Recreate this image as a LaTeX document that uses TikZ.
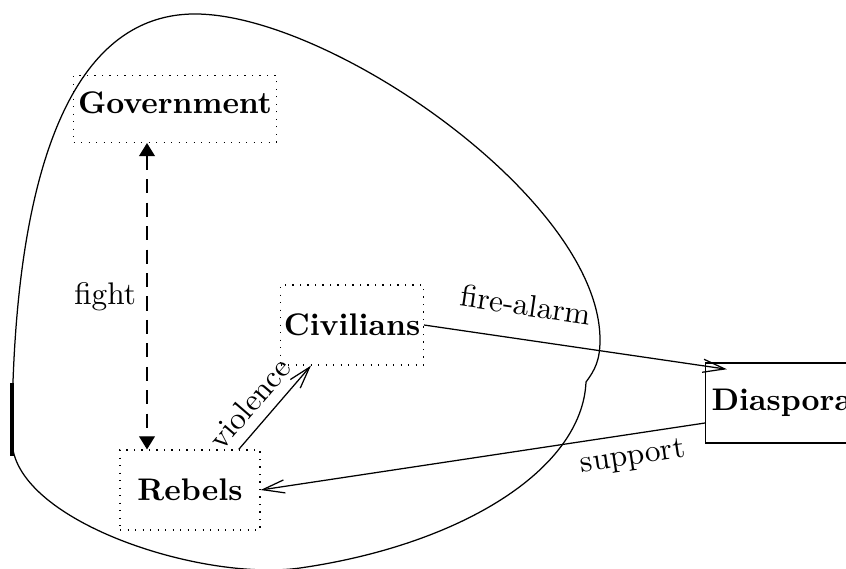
\documentclass[tikz,border=0pt]{standalone}
\usetikzlibrary{arrows.meta}
\begin{document}
\begin{tikzpicture}[x=0.32pt,y=-0.32pt,
    actor/.style={draw,dotted,font=\bfseries,inner sep=1.8pt,minimum width=44.8pt,minimum height=25.6pt},
    link/.style={-{Straight Barb[length=7pt,width=4.2pt]}},
    fightlink/.style={dash pattern=on 4.5pt off 3pt,{Triangle[length=4.2pt,width=5.1pt]}-{Triangle[length=4.2pt,width=5.1pt]}}]
  \useasboundingbox (0,0) rectangle (846,569);
  % the country
  \draw (586,382) .. controls (582,470) and (460,545) .. (300,568)
    .. controls (200,582) and (12,520) .. (12,440)
    .. controls (12,200) and (60,14) .. (195,14)
    .. controls (330,14) and (600,200) .. (600,340)
    .. controls (600,360) and (595,370) .. (586,382) -- cycle;
  \draw[line width=1.1pt] (12,383) -- (12,456);
  % actors
  \node[actor,inner sep=1.4pt,minimum height=21.4pt,text depth=4.3pt] (Government) at (175,109) {Government};
  \node[actor,inner sep=1pt] (Civilians) at (352,325) {Civilians};
  \node[actor] (Rebels) at (190,490) {Rebels};
  \node[draw,font=\bfseries,inner sep=1.9pt,minimum height=25.6pt,anchor=west] (Diaspora) at (705,403) {Diaspora};
  % relations
  \coordinate (fightx) at (147,0);
  \draw[fightlink] (Government.south -| fightx) -- node[left] {fight} (Rebels.north -| fightx);
  \draw[link] ([xshift=-7pt]Rebels.north east) -- node[pos=0.38,sloped,above] {violence}
    ([xshift=9.9pt]Civilians.south west);
  \draw[link] (Civilians.east) -- node[pos=0.32,sloped,above=4pt] {fire-alarm}
    ([xshift=7pt,yshift=-2.2pt]Diaspora.north west);
  \draw[link] ([yshift=-6.4pt]Diaspora.west) -- node[pos=0.17,sloped,below] {support} (Rebels.east);
\end{tikzpicture}
\end{document}
